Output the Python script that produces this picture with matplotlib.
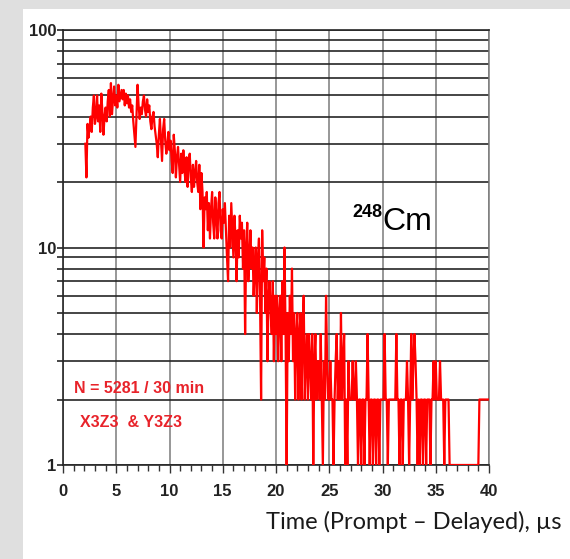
import matplotlib
matplotlib.use("Agg")
import matplotlib.pyplot as plt
from matplotlib.patches import Rectangle
from matplotlib.ticker import FixedLocator, NullFormatter
import numpy as np

# ---- data: counts per 0.1 us bin, from 2.1 us to 40.0 us ----
t_start = 2.1
t_step = 0.1
counts_02 = [30, 21, 37, 32, 36, 40, 34, 44, 50]
counts_03 = [37, 40, 50, 38, 45, 34, 51, 42, 33, 40]
counts_04 = [44, 38, 47, 53, 40, 57, 41, 48, 55, 45]
counts_05 = [50, 44, 56, 47, 50, 53, 48, 53, 45, 51]
counts_06 = [46, 50, 44, 48, 42, 45, 38, 33, 29, 40]
counts_07 = [56, 45, 39, 44, 41, 47, 50, 43, 40, 48]
counts_08 = [42, 45, 38, 35, 40, 42, 36, 33, 30, 26]
counts_09 = [33, 39, 31, 25, 35, 39, 31, 27, 30, 34]
counts_10 = [28, 31, 25, 22, 33, 28, 21, 26, 29, 24]
counts_11 = [20, 27, 22, 28, 23, 20, 26, 19, 25, 27]
counts_12 = [21, 18, 24, 19, 22, 25, 20, 18, 24, 15]
counts_13 = [22, 18, 10, 17, 15, 18, 12, 16, 11, 15]
counts_14 = [18, 13, 11, 17, 14, 11, 16, 18, 12, 11]
counts_15 = [15, 13, 16, 12, 9, 7, 14, 10, 16, 12]
counts_16 = [9, 14, 11, 7, 12, 9, 14, 11, 13, 8]
counts_17 = [12, 4, 10, 13, 7, 9, 12, 8, 10, 6]
counts_18 = [8, 10, 5, 9, 11, 6, 2, 12, 7, 9]
counts_19 = [5, 8, 3, 6, 7, 5, 4, 7, 3, 6]
counts_20 = [4, 6, 3, 5, 6, 3, 7, 4, 10, 4]
counts_21 = [1, 5, 3, 6, 4, 8, 3, 5, 2, 4]
counts_22 = [5, 2, 4, 5, 2, 4, 6, 2, 3, 4]
counts_23 = [2, 4, 3, 2, 4, 1, 3, 4, 2, 3]
counts_24 = [3, 2, 4, 2, 1, 3, 2, 6, 3, 2]
counts_25 = [2, 3, 2, 2, 1, 2, 3, 4, 2, 3]
counts_26 = [2, 5, 2, 3, 4, 1, 2, 1, 3, 2]
counts_27 = [2, 2, 3, 2, 2, 3, 2, 1, 2, 2]
counts_28 = [1, 2, 2, 1, 2, 2, 4, 2, 1, 2]
counts_29 = [2, 1, 2, 2, 1, 2, 2, 1, 2, 2]
counts_30 = [2, 2, 4, 2, 2, 1, 2, 2, 2, 2]
counts_31 = [2, 2, 2, 4, 2, 2, 1, 2, 2, 1]
counts_32 = [2, 2, 2, 3, 2, 1, 2, 4, 2, 3]
counts_33 = [4, 3, 2, 1, 2, 1, 2, 2, 1, 2]
counts_34 = [2, 1, 2, 2, 2, 1, 2, 2, 3, 2]
counts_35 = [3, 2, 2, 2, 3, 2, 2, 2, 1, 2]
counts_36 = [2, 2, 2, 1, 1, 1, 1, 1, 1, 1]
counts_37 = [1, 1, 1, 1, 1, 1, 1, 1, 1, 1]
counts_38 = [1, 1, 1, 1, 1, 1, 1, 1, 1, 1]
counts_39 = [1, 2, 2, 2, 2, 2, 2, 2, 2, 2]
counts_40 = [2]

x_ticks = [0, 5, 10, 15, 20, 25, 30, 35, 40]
y_ticks = [1, 10, 100]
y_tick_labels = ["1", "10", "100"]
isotope_mass = "248"
isotope_symbol = "Cm"
note_line1 = "N = 5281 / 30 min"
note_line2 = "X3Z3  & Y3Z3"
x_label = "Time (Prompt \u2013 Delayed), \u00b5s"

counts = (counts_02 + counts_03 + counts_04 + counts_05 + counts_06 + counts_07 +
          counts_08 + counts_09 + counts_10 + counts_11 + counts_12 + counts_13 +
          counts_14 + counts_15 + counts_16 + counts_17 + counts_18 + counts_19 +
          counts_20 + counts_21 + counts_22 + counts_23 + counts_24 + counts_25 +
          counts_26 + counts_27 + counts_28 + counts_29 + counts_30 + counts_31 +
          counts_32 + counts_33 + counts_34 + counts_35 + counts_36 + counts_37 +
          counts_38 + counts_39 + counts_40)
times = t_start + t_step * np.arange(len(counts))

W, H = 570, 559
fig = plt.figure(figsize=(W / 100, H / 100), dpi=100)
fig.patch.set_facecolor("#dfdfdf")
fig.patches.append(Rectangle((23 / W, 0), 1 - 23 / W, 1 - 9 / H,
                             transform=fig.transFigure, facecolor="white",
                             edgecolor="none", zorder=-5))

ax = fig.add_axes([63 / W, 1 - 465 / H, (489 - 63) / W, (465 - 30) / H])
ax.set_zorder(2)
ax.set_facecolor("white")
ax.set_yscale("log")
ax.set_xlim(0, 40)
ax.set_ylim(1, 100)

narrow = ["Liberation Sans", "DejaVu Sans"]

# grid lines
ax.yaxis.set_major_locator(FixedLocator(y_ticks))
ax.yaxis.set_minor_locator(FixedLocator([v * d for d in (1, 10) for v in range(2, 10)]))
ax.yaxis.set_minor_formatter(NullFormatter())
ax.set_yticklabels(y_tick_labels)
ax.grid(True, which="both", axis="y", color="#262626", lw=1.2)
ax.xaxis.set_major_locator(FixedLocator(x_ticks))
ax.xaxis.set_minor_locator(FixedLocator(list(range(0, 41))))
ax.grid(True, which="major", axis="x", color="#7a7a7a", lw=1.1)
ax.set_axisbelow(True)

ax.tick_params(axis="y", which="both", direction="out", length=4, width=1.2,
               color="#262626", pad=1)
ax.tick_params(axis="x", which="major", direction="out", length=6, width=1.0,
               color="#333333", pad=8)
ax.tick_params(axis="x", which="minor", direction="out", length=4, width=1.0,
               color="#333333")
for lab in ax.get_xticklabels() + ax.get_yticklabels():
    lab.set_family(narrow)
    lab.set_fontweight("bold")
    lab.set_fontsize(12)
    lab.set_color("#222222")

for s in ("left", "bottom", "top"):
    ax.spines[s].set_color("#262626")
    ax.spines[s].set_linewidth(1.2)
ax.spines["right"].set_color("#7a7a7a")
ax.spines["right"].set_linewidth(1.1)

ax.plot(times, counts, color="#ff0000", lw=1.6, clip_on=True, zorder=3)

# annotations
fig.text(382 / W, 1 - 230 / H, isotope_symbol, family=narrow, fontsize=23,
         ha="left", va="baseline", color="black")
fig.text(382 / W, 1 - 217 / H, isotope_mass, family=narrow, fontsize=13,
         fontweight="bold", ha="right", va="baseline", color="black")
fig.text(74 / W, 1 - 393 / H, note_line1, family=narrow, fontsize=11.5,
         fontweight="bold", ha="left", va="baseline", color="#e8232a")
fig.text(80 / W, 1 - 427 / H, note_line2, family=narrow, fontsize=11.5,
         fontweight="bold", ha="left", va="baseline", color="#e8232a")
fig.text(562 / W, 1 - 529 / H, x_label, family=["Lato", "DejaVu Sans"],
         fontsize=17, ha="right", va="baseline", color="#1a1a1a")

fig.savefig("out.png", dpi=100, facecolor=fig.get_facecolor())
